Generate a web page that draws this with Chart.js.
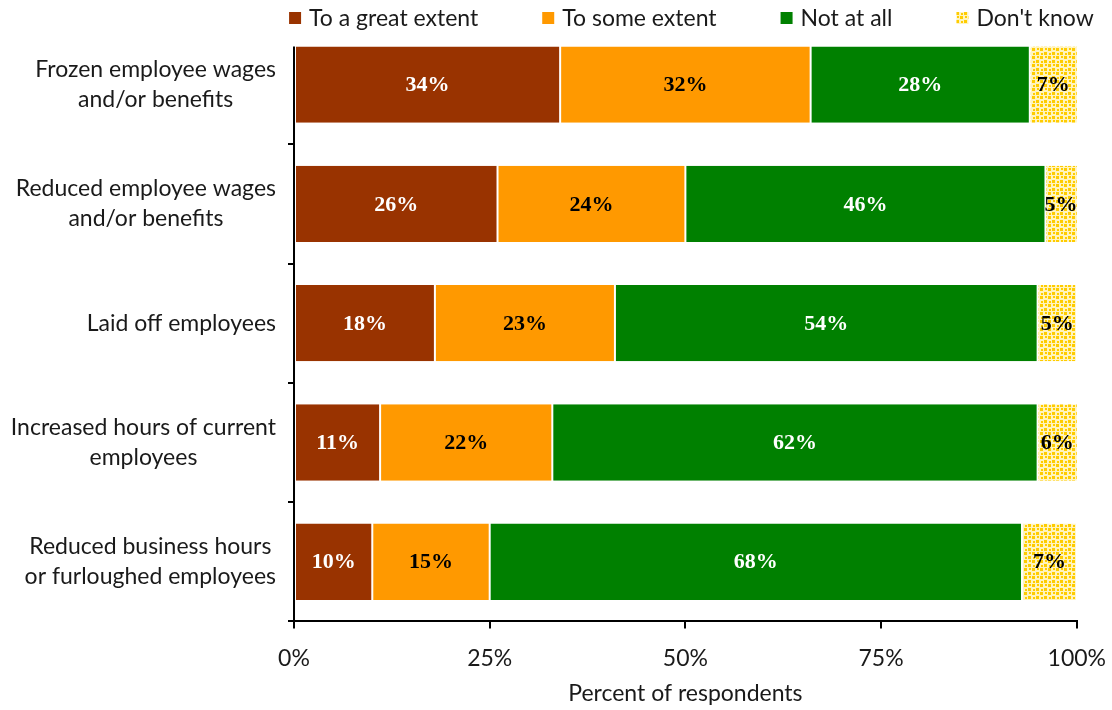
<!DOCTYPE html>
<html>
<head>
<meta charset="utf-8">
<title>Employer actions</title>
<script src="https://cdn.jsdelivr.net/npm/chart.js@4.4.1/dist/chart.umd.min.js"></script>
<style>
  html, body { margin: 0; padding: 0; background: #fff; }
  #chartCanvas { display: block; }
</style>
</head>
<body>
<canvas id="chartCanvas" width="1112" height="710"></canvas>
<script>
// categories (top to bottom) and their wrapped label lines
const categories = [
    ['Frozen employee wages', 'and/or benefits'],
    ['Reduced employee wages', 'and/or benefits'],
    ['Laid off employees'],
    ['Increased hours of current', 'employees'],
    ['Reduced business hours', 'or furloughed employees']
];
const seriesNames = ['To a great extent', 'To some extent', 'Not at all', "Don't know"];
const greatExtent = [34, 26, 18, 11, 10];
const someExtent = [32, 24, 23, 22, 15];
const notAtAll = [28, 46, 54, 62, 68];
const dontKnow = [7, 5, 5, 6, 7];
const xTicks = [0, 25, 50, 75, 100];

const textColor = '#1a1a1a';
const sansFont = 'Lato, "Open Sans", sans-serif';
const textSize = 23;
const labelFont = 'bold 22px "Liberation Serif", "DejaVu Serif", serif';

// dotted yellow fill for the "Don't know" segments
const makeDots = () => {
    const tile = document.createElement('canvas');
    tile.width = 8;
    tile.height = 8;
    const t = tile.getContext('2d');
    t.fillStyle = '#fff4bd';
    t.fillRect(0, 0, 8, 8);
    t.fillStyle = '#ffcc00';
    t.fillRect(0, 0, 3, 3);
    t.fillRect(4, 4, 3, 3);
    t.fillRect(5, 0, 2, 2);
    t.fillRect(1, 5, 2, 2);
    return tile;
};

const canvas = document.getElementById('chartCanvas');
const ctx = canvas.getContext('2d');
const dots = ctx.createPattern(makeDots(), 'repeat');

const fills = ['#993300', '#ff9900', '#008000', dots];
const valueColors = ['#ffffff', '#000000', '#ffffff', '#000000'];
const seriesData = [greatExtent, someExtent, notAtAll, dontKnow];

// percentage text in the middle of each visible segment
const valueLabels = {
    id: 'valueLabels',
    afterDatasetsDraw(chart) {
        const c = chart.ctx;
        const area = chart.chartArea;
        c.save();
        c.font = labelFont;
        c.textAlign = 'center';
        c.textBaseline = 'middle';
        chart.data.datasets.forEach((ds, i) => {
            chart.getDatasetMeta(i).data.forEach((bar, j) => {
                const x0 = Math.max(Math.min(bar.base, bar.x), area.left);
                const x1 = Math.min(Math.max(bar.base, bar.x), area.right);
                c.fillStyle = valueColors[i];
                c.fillText(ds.data[j] + '%', (x0 + x1) / 2, bar.y + 1);
            });
        });
        c.restore();
    }
};

// category names: each block sits against the axis, its lines centred on each other
const categoryLabels = {
    id: 'categoryLabels',
    afterDraw(chart) {
        const c = chart.ctx;
        const y = chart.scales.y;
        const lineH = 30;
        c.save();
        c.font = textSize + 'px ' + sansFont;
        c.fillStyle = textColor;
        c.textAlign = 'center';
        c.textBaseline = 'middle';
        categories.forEach((lines, i) => {
            const w = Math.max(...lines.map(l => c.measureText(l).width));
            const cx = chart.chartArea.left - 18 - w / 2;
            const cy = y.getPixelForValue(i);
            lines.forEach((l, k) => {
                c.fillText(l, cx, cy + (k - (lines.length - 1) / 2) * lineH);
            });
        });

        // vertical axis line runs from the top of the first bar down to the x axis
        const first = chart.getDatasetMeta(0).data[0];
        c.strokeStyle = '#000';
        c.lineWidth = 2;
        c.beginPath();
        c.moveTo(chart.chartArea.left, first.y - first.height / 2);
        c.lineTo(chart.chartArea.left, chart.chartArea.bottom);
        c.stroke();
        c.restore();
    }
};

// legend row across the top
const topLegend = {
    id: 'topLegend',
    afterDraw(chart) {
        const c = chart.ctx;
        const box = 12, gap = 8, spacing = 64, cy = 18;
        c.save();
        c.font = textSize + 'px ' + sansFont;
        c.textBaseline = 'middle';
        c.textAlign = 'left';
        const widths = seriesNames.map(n => box + gap + c.measureText(n).width);
        const total = widths.reduce((a, b) => a + b, 0) + spacing * (widths.length - 1);
        let x = (chart.chartArea.left + chart.chartArea.right) / 2 + 6 - total / 2;
        chart.data.datasets.forEach((ds, i) => {
            c.fillStyle = ds.backgroundColor;
            c.fillRect(x, cy - box / 2, box, box);
            c.fillStyle = textColor;
            c.fillText(ds.label, x + box + gap, cy + 1);
            x += widths[i] + spacing;
        });
        c.restore();
    }
};

const chart = new Chart(ctx, {
    type: 'bar',
    data: {
        labels: categories.map(l => l.join(' ')),
        datasets: seriesNames.map((name, i) => ({
            label: name,
            data: seriesData[i],
            backgroundColor: fills[i],
            borderColor: '#ffffff',
            borderWidth: { left: 1, right: 1, top: 0, bottom: 0 },
            borderSkipped: false,
            clip: 0,
            categoryPercentage: 1,
            barPercentage: 0.64
        }))
    },
    options: {
        indexAxis: 'y',
        responsive: false,
        animation: false,
        layout: { padding: { top: 25, right: 35, bottom: 0, left: 0 } },
        plugins: {
            legend: { display: false },
            tooltip: { enabled: false }
        },
        scales: {
            x: {
                stacked: true,
                min: 0,
                max: 100,
                afterBuildTicks: axis => { axis.ticks = xTicks.map(v => ({ value: v })); },
                border: { color: '#000', width: 2 },
                grid: { drawOnChartArea: false, color: '#000', lineWidth: 2, tickLength: 7 },
                ticks: {
                    padding: 6,
                    color: textColor,
                    font: { family: sansFont, size: textSize, lineHeight: '48px' },
                    callback: v => v + '%'
                },
                title: {
                    display: true,
                    text: 'Percent of respondents',
                    color: textColor,
                    font: { family: sansFont, size: textSize },
                    padding: { top: -9, bottom: 3 }
                }
            },
            y: {
                stacked: true,
                afterFit: scale => { scale.width = 294; },
                border: { display: false },
                grid: {
                    offset: true,
                    drawOnChartArea: false,
                    lineWidth: 2,
                    tickLength: 6,
                    color: c => c.index === 0 ? 'rgba(0,0,0,0)' : '#000'
                },
                ticks: { display: false }
            }
        }
    },
    plugins: [valueLabels, categoryLabels, topLegend]
});
</script>
</body>
</html>
